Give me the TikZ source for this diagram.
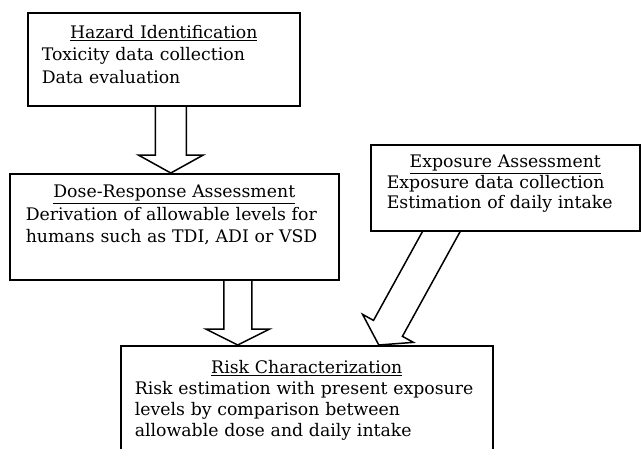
\documentclass[tikz,border=0pt]{standalone}
\usepackage{fontspec}
\setmainfont{DejaVu Serif}
\usetikzlibrary{positioning,calc,backgrounds}

\newcommand\blockarrow[5]{%
  \coordinate (ba) at ($(#2)!#5!(#1)$);
  \draw[arrowline] ($(#1)!#3!90:(#2)$) -- ($(ba)!#3!90:(#2)$) -- ($(ba)!#4!90:(#2)$) -- (#2)
    -- ($(ba)!#4!-90:(#2)$) -- ($(ba)!#3!-90:(#2)$) -- ($(#1)!#3!-90:(#2)$);
}

\begin{document}
\begin{tikzpicture}[x=1pt, y=-1pt,
  box/.style={draw, line width=1.6pt, fill=white, inner sep=0pt, anchor=north west},
  boxtext/.style={inner sep=0pt, align=left, font=\fontsize{17.3}{#1}\selectfont},
  boxtext/.default=22.5,
  arrowline/.style={line width=1.5pt, line join=miter}]
  \useasboundingbox (0,0) rectangle (641,448);
  \node[box, minimum width=272pt, minimum height=93pt] (hazard) at (27,12) {};
  \node[box, minimum width=329pt, minimum height=106pt] (dose) at (9,173) {};
  \node[box, minimum width=269pt, minimum height=86pt] (expo) at (370,144) {};
  \node[box, minimum width=372pt, minimum height=120pt] (risk) at (120,345) {};
  \node[boxtext, text width=244pt, below=13pt of hazard.north] (hazardtext)
    {{\centering\underline{Hazard Identification}\par}Toxicity data collection\\Data evaluation};
  \node[boxtext, text width=297pt, below=12pt of dose.north] (dosetext)
    {{\centering\underline{Dose-Response Assessment}\par}Derivation of allowable levels for\\humans such as TDI, ADI or VSD};
  \node[boxtext=20.5, text width=237pt, below=11pt of expo.north] (expotext)
    {{\centering\underline{Exposure Assessment}\par}Exposure data collection\\Estimation of daily intake};
  \node[boxtext=21, text width=344pt, below=15pt of risk.north] (risktext)
    {{\centering\underline{Risk Characterization}\par}Risk estimation with present exposure\\levels by comparison between\\allowable dose and daily intake};
  \begin{scope}[on background layer]
    \coordinate (a1s) at ($(hazard.south)+(7,0)$);
    \coordinate (a1t) at (dose.north -| a1s);
    \blockarrow{a1s}{a1t}{15.5pt}{32.5pt}{18pt}
    \coordinate (a2s) at ($(dose.south)+(63.5,0)$);
    \coordinate (a2t) at (risk.north -| a2s);
    \blockarrow{a2s}{a2t}{14pt}{32pt}{16pt}
    \coordinate (a3b) at ($(expo.south)+(-64,0)$);
    \coordinate (a3t) at ($(risk.north)+(72,0)$);
    \coordinate (a3s) at ($(a3b)!-16pt!(a3t)$);
    \blockarrow{a3s}{a3t}{16.5pt}{29pt}{19pt}
  \end{scope}
\end{tikzpicture}
\end{document}
